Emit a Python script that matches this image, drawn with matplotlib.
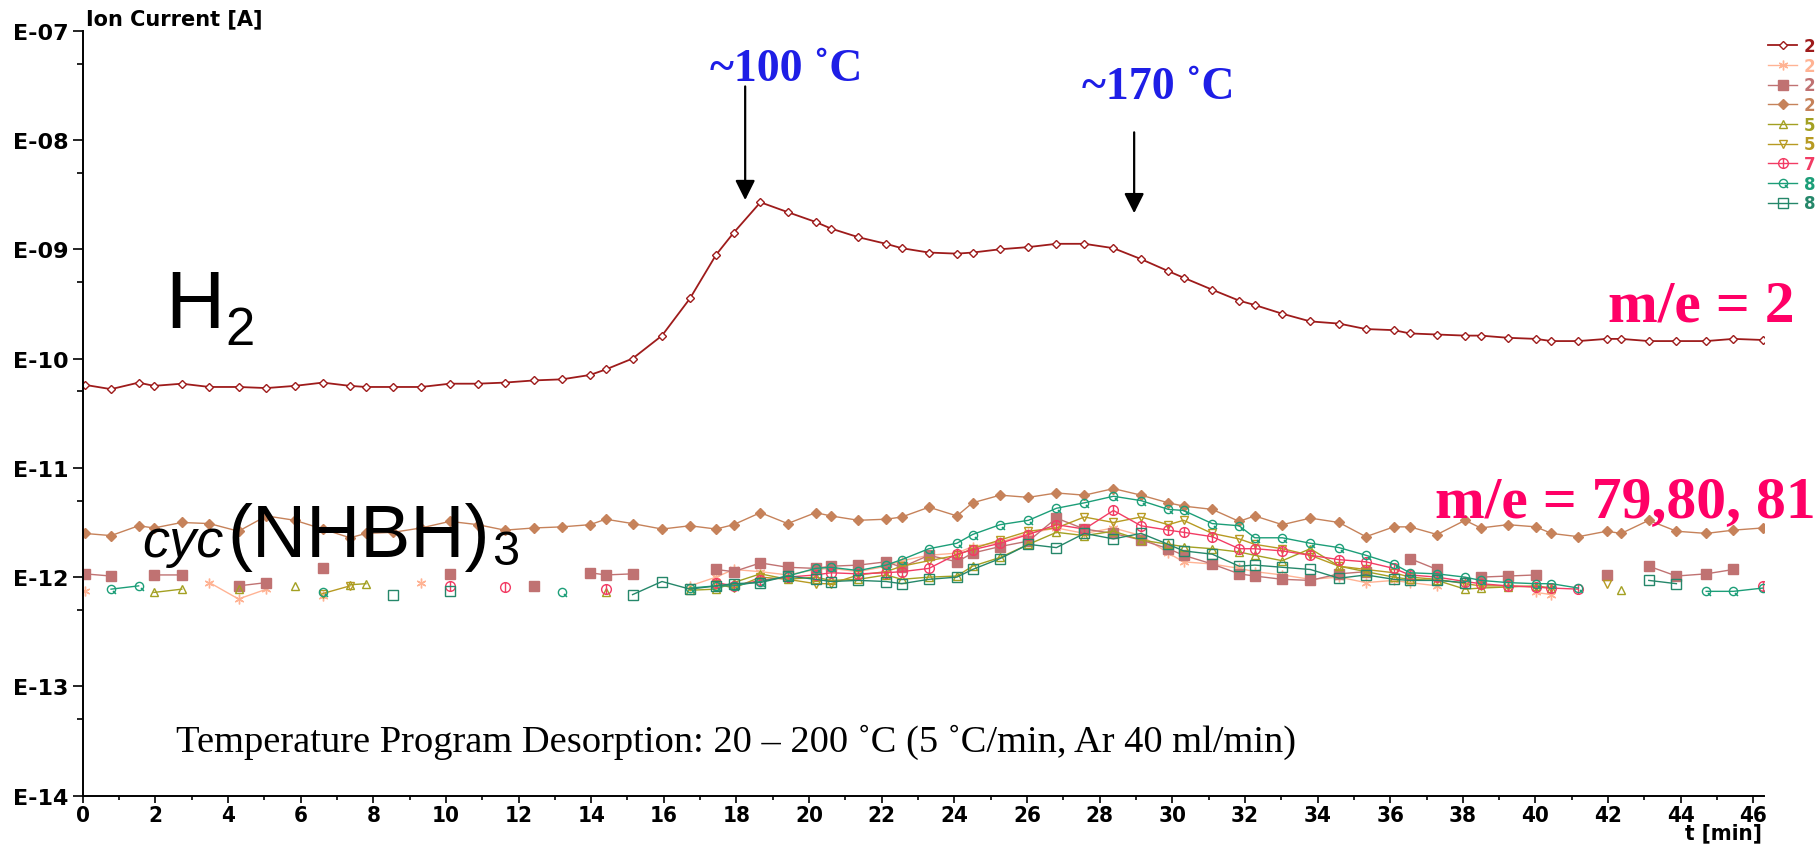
import numpy as np
import matplotlib.pyplot as plt
from matplotlib.path import Path
from matplotlib.ticker import FixedLocator, MultipleLocator, NullFormatter
from matplotlib import font_manager

nan = np.nan

# scan times in minutes (shared by all mass channels)
t_min = [0.05, 0.78, 1.54, 1.96, 2.73, 3.49, 4.29, 5.06, 5.84, 6.61,
         7.36, 7.80, 8.55, 9.32, 10.11, 10.88, 11.62, 12.43, 13.20, 13.97,
         14.40, 15.14, 15.95, 16.72, 17.44, 17.92, 18.66, 19.41, 20.18, 20.60,
         21.36, 22.12, 22.55, 23.30, 24.07, 24.50, 25.26, 26.04, 26.81, 27.58,
         28.38, 29.14, 29.89, 30.31, 31.10, 31.84, 32.27, 33.03, 33.80, 34.59,
         35.33, 36.10, 36.54, 37.29, 38.06, 38.49, 39.24, 40.01, 40.44, 41.18,
         41.96, 42.36, 43.12, 43.88, 44.70, 45.45, 46.26]

# ion currents as log10(I / A), nan = no reading
h2_log = [-10.24, -10.28, -10.22, -10.25, -10.23, -10.26, -10.26, -10.27, -10.25, -10.22,
          -10.25, -10.26, -10.26, -10.26, -10.23, -10.23, -10.22, -10.20, -10.19, -10.15,
          -10.10, -10.00, -9.79, -9.45, -9.05, -8.85, -8.57, -8.66, -8.75, -8.81,
          -8.89, -8.95, -8.99, -9.03, -9.04, -9.03, -9.00, -8.98, -8.95, -8.95,
          -8.99, -9.09, -9.20, -9.26, -9.37, -9.47, -9.51, -9.59, -9.66, -9.68,
          -9.73, -9.74, -9.77, -9.78, -9.79, -9.79, -9.81, -9.82, -9.84, -9.84,
          -9.82, -9.82, -9.84, -9.84, -9.84, -9.82, -9.83]

peach_log = [-12.13, nan, nan, nan, nan, -12.05, -12.20, -12.11, nan, -12.17,
             nan, nan, nan, -12.05, nan, nan, nan, nan, nan, nan,
             nan, nan, nan, -12.08, -12.00, -11.93, -11.95, -11.98, -11.93, -11.92,
             -11.95, -11.90, -11.85, -11.80, -11.78, -11.72, -11.68, -11.60, -11.55, -11.60,
             -11.55, -11.62, -11.78, -11.86, -11.88, -11.92, -11.95, -11.98, -12.02, -12.00,
             -12.05, -12.03, -12.05, -12.08, nan, nan, nan, -12.14, -12.16, nan,
             nan, nan, nan, nan, nan, nan, nan]

rosy_log = [-11.97, -11.99, nan, -11.98, -11.98, nan, -12.08, -12.05, nan, -11.92,
            nan, nan, nan, nan, -11.97, nan, nan, -12.08, nan, -11.96,
            -11.98, -11.97, nan, nan, -11.93, -11.95, -11.87, -11.91, -11.92, -11.90,
            -11.89, -11.86, -11.91, -11.80, -11.86, -11.78, -11.72, -11.67, -11.46, -11.56,
            -11.60, -11.66, -11.74, -11.80, -11.88, -11.97, -11.99, -12.02, -12.03, -11.97,
            -11.95, nan, -11.83, -11.93, nan, -12.00, -11.99, -11.98, nan, nan,
            -11.98, nan, -11.90, -11.99, -11.97, -11.93, nan]

sienna_log = [-11.60, -11.62, -11.53, -11.55, -11.50, -11.51, -11.58, -11.44, -11.48, -11.56,
              -11.64, -11.60, -11.59, -11.55, -11.49, -11.52, -11.57, -11.55, -11.54, -11.52,
              -11.47, -11.51, -11.56, -11.53, -11.56, -11.52, -11.41, -11.51, -11.41, -11.44,
              -11.48, -11.47, -11.45, -11.36, -11.44, -11.32, -11.25, -11.27, -11.23, -11.25,
              -11.19, -11.25, -11.32, -11.35, -11.38, -11.49, -11.44, -11.52, -11.46, -11.50,
              -11.63, -11.54, -11.54, -11.61, -11.48, -11.55, -11.52, -11.54, -11.60, -11.63,
              -11.58, -11.60, -11.48, -11.58, -11.60, -11.57, -11.55]

olive_log = [nan, nan, nan, -12.14, -12.11, nan, -12.11, nan, -12.08, nan,
             -12.07, -12.06, nan, nan, nan, nan, nan, nan, nan, nan,
             -12.14, nan, nan, -12.12, -12.11, -12.05, -11.97, -12.02, -12.00, -12.03,
             -12.02, -11.98, -12.02, -12.00, -11.99, -11.90, -11.82, -11.70, -11.59, -11.62,
             -11.58, -11.66, -11.70, -11.72, -11.74, -11.77, -11.80, -11.85, -11.74, -11.90,
             -11.95, -12.00, -12.02, -12.03, -12.11, -12.10, -12.09, -12.08, -12.10, nan,
             nan, -12.12, nan, nan, nan, nan, nan]

gold_log = [nan, nan, nan, nan, nan, nan, nan, nan, nan, -12.15,
            -12.08, nan, nan, nan, nan, nan, nan, nan, nan, nan,
            nan, nan, nan, nan, -12.06, -12.10, -12.00, -12.02, -12.06, -12.06,
            -11.98, -11.95, -11.90, -11.85, -11.80, -11.74, -11.66, -11.58, -11.55, -11.45,
            -11.50, -11.45, -11.52, -11.48, -11.60, -11.65, -11.70, -11.74, -11.80, -11.90,
            -11.93, -11.96, -12.00, -12.02, -12.06, -12.08, -12.08, -12.09, -12.10, nan,
            -12.06, nan, nan, nan, nan, nan, nan]

pink_log = [nan, nan, nan, nan, nan, nan, nan, nan, nan, nan,
            nan, nan, nan, nan, -12.08, nan, -12.09, nan, nan, nan,
            -12.11, nan, nan, nan, -12.05, -12.08, -12.03, -12.00, -11.98, -11.96,
            -11.97, -11.96, -11.95, -11.92, -11.79, -11.75, -11.69, -11.61, -11.52, -11.56,
            -11.39, -11.53, -11.57, -11.59, -11.63, -11.74, -11.74, -11.76, -11.80, -11.84,
            -11.86, -11.92, -11.98, -12.00, -12.04, -12.06, -12.08, -12.09, -12.10, -12.11,
            nan, nan, nan, nan, nan, nan, -12.08]

tealq_log = [nan, -12.11, -12.08, nan, nan, nan, nan, nan, nan, -12.14,
             nan, nan, nan, nan, nan, nan, nan, nan, -12.14, nan,
             nan, nan, nan, -12.10, -12.08, -12.08, -12.04, -11.99, -11.92, -11.91,
             -11.94, -11.89, -11.84, -11.74, -11.69, -11.61, -11.52, -11.48, -11.37, -11.32,
             -11.26, -11.30, -11.38, -11.39, -11.51, -11.53, -11.64, -11.64, -11.69, -11.73,
             -11.80, -11.88, -11.96, -11.97, -12.00, -12.03, -12.05, -12.06, -12.06, -12.10,
             nan, nan, nan, nan, -12.13, -12.13, -12.10]

tealsq_log = [nan, nan, nan, nan, nan, nan, nan, nan, nan, nan,
              nan, nan, -12.16, nan, -12.13, nan, nan, nan, nan, nan,
              nan, -12.16, -12.04, -12.11, -12.08, -12.06, -12.05, -11.99, -12.02, -12.04,
              -12.03, -12.04, -12.06, -12.02, -12.00, -11.93, -11.83, -11.70, -11.73, -11.60,
              -11.65, -11.60, -11.70, -11.76, -11.79, -11.90, -11.89, -11.91, -11.93, -12.01,
              -11.98, -12.02, -12.03, -12.03, -12.05, nan, nan, nan, nan, nan,
              nan, nan, -12.03, -12.06, nan, nan, nan]

legend_labels = ['2', '2', '2', '2', '5', '5', '7', '8', '8']
y_ticks = [1e-14, 1e-13, 1e-12, 1e-11, 1e-10, 1e-9, 1e-8, 1e-7]
y_tick_labels = ['E-14', 'E-13', 'E-12', 'E-11', 'E-10', 'E-09', 'E-08', 'E-07']
x_ticks = list(range(0, 47, 2))

W, H = 1820, 845


def fxy(px, py):
    # pixel position (from top-left) -> figure fraction
    return px / W, 1 - py / H


fig = plt.figure(figsize=(W / 100, H / 100), dpi=100)
ax = fig.add_axes([82.7 / W, 1 - 796.7 / H, 1681.6 / W, 765 / H])

# custom markers: circle with bar, circle with tail
circle = Path.unit_circle()
theta_mark = Path.make_compound_path(circle, Path([[0, -1], [0, 1]]))
q_mark = Path.make_compound_path(circle, Path([[0.35, -0.35], [1.1, -1.1]]))

t = np.array(t_min)
styles = [
    (h2_log, '#9E1B1B', 'D', 4.5, 'white', 1.3),
    (peach_log, '#FFB394', (6, 2, 0), 7, 'none', 1.0),
    (rosy_log, '#C07272', 's', 6.5, '#C07272', 1.0),
    (sienna_log, '#C6825A', 'D', 5, '#C6825A', 1.0),
    (olive_log, '#A3A022', '^', 6, 'none', 1.0),
    (gold_log, '#B79A22', 'v', 6, 'none', 1.0),
    (pink_log, '#F23C64', theta_mark, 7, 'none', 1.0),
    (tealq_log, '#1C9E78', q_mark, 6.5, 'none', 1.0),
    (tealsq_log, '#25876A', 's', 6.5, 'none', 1.0),
]
for (vals, col, mk, ms, mfc, lw), lab in zip(styles, legend_labels):
    ax.plot(t, 10.0 ** np.array(vals), color=col, marker=mk, ms=ms, mfc=mfc,
            mec=col, mew=1.0, lw=lw, label=lab)

ax.set_yscale('log')
ax.set_ylim(1e-14, 1e-7)
ax.set_xlim(0, 46.3)

for side in ['top', 'right']:
    ax.spines[side].set_visible(False)
for side in ['left', 'bottom']:
    ax.spines[side].set_linewidth(1.4)

ax.set_yticks(y_ticks, labels=y_tick_labels, fontsize=16, fontweight='bold', family='DejaVu Sans')
ax.yaxis.set_minor_locator(FixedLocator([5 * 10.0 ** e for e in range(-14, -7)]))
ax.yaxis.set_minor_formatter(NullFormatter())
ax.tick_params(axis='y', which='major', length=7, width=1.2, pad=3)
ax.tick_params(axis='y', which='minor', length=4, width=1.2)

# condensed bold digits on the time axis
names = {f.name for f in font_manager.fontManager.ttflist}
if 'Liberation Sans Narrow' in names:
    xfont = dict(family='Liberation Sans Narrow', fontsize=19, fontweight='bold')
else:
    xfont = dict(family='DejaVu Sans', fontsize=16, fontweight='bold', stretch='condensed')
ax.set_xticks(x_ticks, labels=[str(v) for v in x_ticks], **xfont)
ax.xaxis.set_minor_locator(MultipleLocator(1))
ax.tick_params(axis='x', which='major', length=5, width=1.2, pad=1.5)
ax.tick_params(axis='x', which='minor', length=3, width=1.2)

fig.text(*fxy(86, 25), 'Ion Current [A]', fontsize=15, fontweight='bold',
         family='DejaVu Sans', va='baseline')
fig.text(*fxy(1762, 839), 't [min]', ha='right', va='baseline', **xfont)

# legend in the top right corner
leg = fig.legend(loc='upper left', bbox_to_anchor=fxy(1768, 38), frameon=False,
                 prop=dict(family='DejaVu Sans', weight='bold', size=12),
                 handlelength=1.75, handletextpad=0.4, labelspacing=0.1,
                 borderpad=0, borderaxespad=0)
for txt, line in zip(leg.get_texts(), leg.get_lines()):
    txt.set_color(line.get_color())

# temperature markers
serif = 'Liberation Serif'
blue = '#1E1EE6'
fig.text(*fxy(786, 81), '~100 ˚C', fontsize=33, fontweight='bold', family=serif,
         color=blue, ha='center', va='baseline')
fig.text(*fxy(1158, 99), '~170 ˚C', fontsize=33, fontweight='bold', family=serif,
         color=blue, ha='center', va='baseline')
arrow = dict(arrowstyle='-|>,head_length=0.6,head_width=0.3', color='black',
             lw=1.6, mutation_scale=20, shrinkA=0, shrinkB=0)
ax.annotate('', xy=(18.24, 10 ** -8.55), xytext=(18.24, 10 ** -7.51), arrowprops=arrow)
ax.annotate('', xy=(28.95, 10 ** -8.67), xytext=(28.95, 10 ** -7.93), arrowprops=arrow)

pink = '#FF0066'
fig.text(*fxy(1795, 322), 'm/e = 2', fontsize=43, fontweight='bold', family=serif,
         color=pink, ha='right', va='baseline')
fig.text(*fxy(1816, 517), 'm/e = 79,80, 81', fontsize=43, fontweight='bold', family=serif,
         color=pink, ha='right', va='baseline')

fig.text(*fxy(176, 752), 'Temperature Program Desorption: 20 – 200 ˚C (5 ˚C/min, Ar 40 ml/min)',
         fontsize=27.7, family=serif, va='baseline')

# species labels
renderer = fig.canvas.get_renderer()
sans = 'Liberation Sans'
h = fig.text(*fxy(165, 328), 'H', fontsize=59, family=sans, va='baseline')
x_end = h.get_window_extent(renderer).x1
fig.text((x_end + 1) / W, 1 - 345 / H, '2', fontsize=38, family=sans, va='baseline')

fig.text(*fxy(224, 557), 'cyc', fontsize=39, style='italic', family=sans,
         ha='right', va='baseline')
nh = fig.text(*fxy(227, 557), '(NHBH)', fontsize=54, family=sans, va='baseline')
x_end = nh.get_window_extent(renderer).x1
fig.text((x_end + 3) / W, 1 - 565 / H, '3', fontsize=35, family=sans, va='baseline')

fig.savefig('out.png', dpi=100)
